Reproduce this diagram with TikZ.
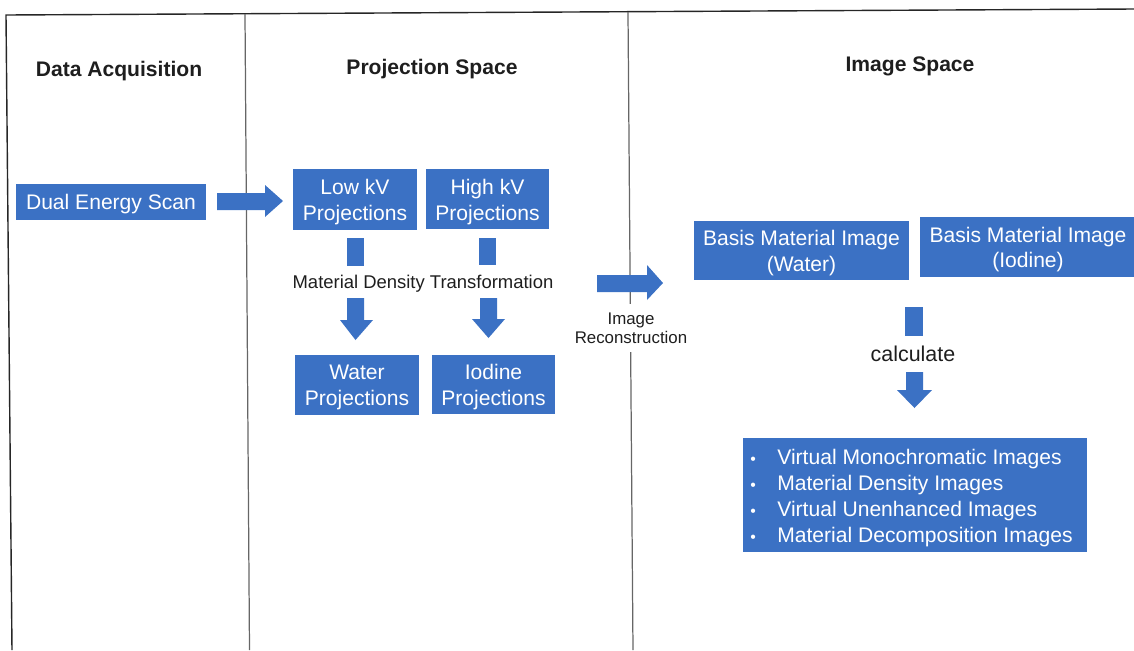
\documentclass[tikz,border=0pt]{standalone}
\usepackage{fontspec}
\setmainfont{Liberation Sans}
\definecolor{boxblue}{RGB}{59,113,196}
\definecolor{inkgray}{RGB}{30,30,30}
\begin{document}
\begin{tikzpicture}[x=0.02cm,y=-0.02cm,
  box/.style={fill=boxblue, inner sep=0pt},
  txt/.style={text=white, font=\fontsize{12}{14.7}\selectfont, align=center, inner sep=0pt},
  title/.style={font=\bfseries\fontsize{12}{14}\selectfont, text=inkgray},
  lbl/.style={font=\fontsize{10.5}{12}\selectfont, text=inkgray},
  small/.style={font=\fontsize{9.6}{11}\selectfont, text=inkgray, align=center},
  blk/.style={fill=boxblue},
  outer/.style={draw=black!85, line width=0.8pt},
  inner/.style={draw=black!60, line width=0.7pt}]
\useasboundingbox (0,0) rectangle (1134,650);

% frame
\coordinate (tl) at (6,15);
\coordinate (tr) at (1134,9);
\coordinate (bl) at (12,650);
\coordinate (m1t) at (245,14);
\coordinate (m1b) at (249.5,650);
\coordinate (m2t) at (628,12);
\coordinate (m2b) at (633,650);
\draw[outer] (bl) -- (tl) -- (tr);
\draw[inner] (m1t) -- (m1b);
\draw[inner] (m2t) -- (m2b);

% titles
\node[title] (t1) at (119,71) {Data Acquisition};
\node[title] (t2) at (432,69) {Projection Space};
\node[title] (t3) at (910,66) {Image Space};

% boxes
\node[box, minimum width=3.8cm, minimum height=0.72cm] (scan) at (111,202) {};
\node[box, minimum width=2.48cm, minimum height=1.22cm] (low) at (355,199.5) {};
\node[box, minimum width=2.46cm, minimum height=1.2cm] (high) at (487.5,199) {};
\node[box, minimum width=2.48cm, minimum height=1.2cm] (water) at (357,385) {};
\node[box, minimum width=2.46cm, minimum height=1.18cm] (iodine) at (493.5,384.5) {};
\node[box, minimum width=4.3cm, minimum height=1.18cm] (bw) at (801.5,250.5) {};
\node[box, minimum width=4.32cm, minimum height=1.2cm] (bi) at (1028,247) {};
\node[box, minimum width=6.88cm, minimum height=2.28cm] (list) at (915,495) {};

\node[txt] (scantxt) at ([yshift=-0.045cm]scan.center) {Dual Energy Scan};
\node[txt] (lowtxt) at ([yshift=-0.055cm]low.center) {Low kV\\Projections};
\node[txt] (hightxt) at ([yshift=-0.055cm]high.center) {High kV\\Projections};
\node[txt] (watertxt) at ([yshift=-0.055cm]water.center) {Water\\Projections};
\node[txt] (iodinetxt) at ([yshift=-0.055cm]iodine.center) {Iodine\\Projections};
\node[txt] (bwtxt) at ([yshift=-0.05cm]bw.center) {Basis Material Image\\(Water)};
\node[txt] (bitxt) at ([yshift=-0.05cm]bi.center) {Basis Material Image\\(Iodine)};
\node[anchor=west, inner sep=0pt, text=white, align=left,
      font=\fontsize{12}{14.8}\selectfont] (items) at (750,498)
  {\makebox[0.54cm][l]{\small•}Virtual Monochromatic Images\\
   \makebox[0.54cm][l]{\small•}Material Density Images\\
   \makebox[0.54cm][l]{\small•}Virtual Unenhanced Images\\
   \makebox[0.54cm][l]{\small•}Material Decomposition Images};

% labels
\node[lbl] (mdt) at (423,284) {Material Density Transformation};
\node[small, fill=white, inner xsep=1pt, inner ysep=5pt] (recon) at (631,328) {Image\\Reconstruction};
\node[font=\fontsize{12.2}{14}\selectfont, text=inkgray] (calc) at (913,354) {calculate};

% block arrows
\fill[blk] (217,193) -- (265,193) -- (265,185) -- (283,201) -- (265,217) -- (265,210) -- (217,210) -- cycle;
\fill[blk] (597,275) -- (647,275) -- (647,265) -- (663,283) -- (647,300) -- (647,292) -- (597,292) -- cycle;

% stems and down arrows
\fill[blk] (347,238) rectangle (364,266);
\fill[blk] (479,238) rectangle (496,265);
\fill[blk] (905,307) rectangle (923,336);
\fill[blk] (347,298) -- (364,298) -- (364,320) -- (373,320) -- (355.5,340) -- (340,320) -- (347,320) -- cycle;
\fill[blk] (480,298) -- (497,298) -- (497,319) -- (505,319) -- (488.5,338) -- (472,319) -- (480,319) -- cycle;
\fill[blk] (906,372) -- (923,372) -- (923,390) -- (932,390) -- (914.5,408) -- (897,390) -- (906,390) -- cycle;
\end{tikzpicture}
\end{document}
